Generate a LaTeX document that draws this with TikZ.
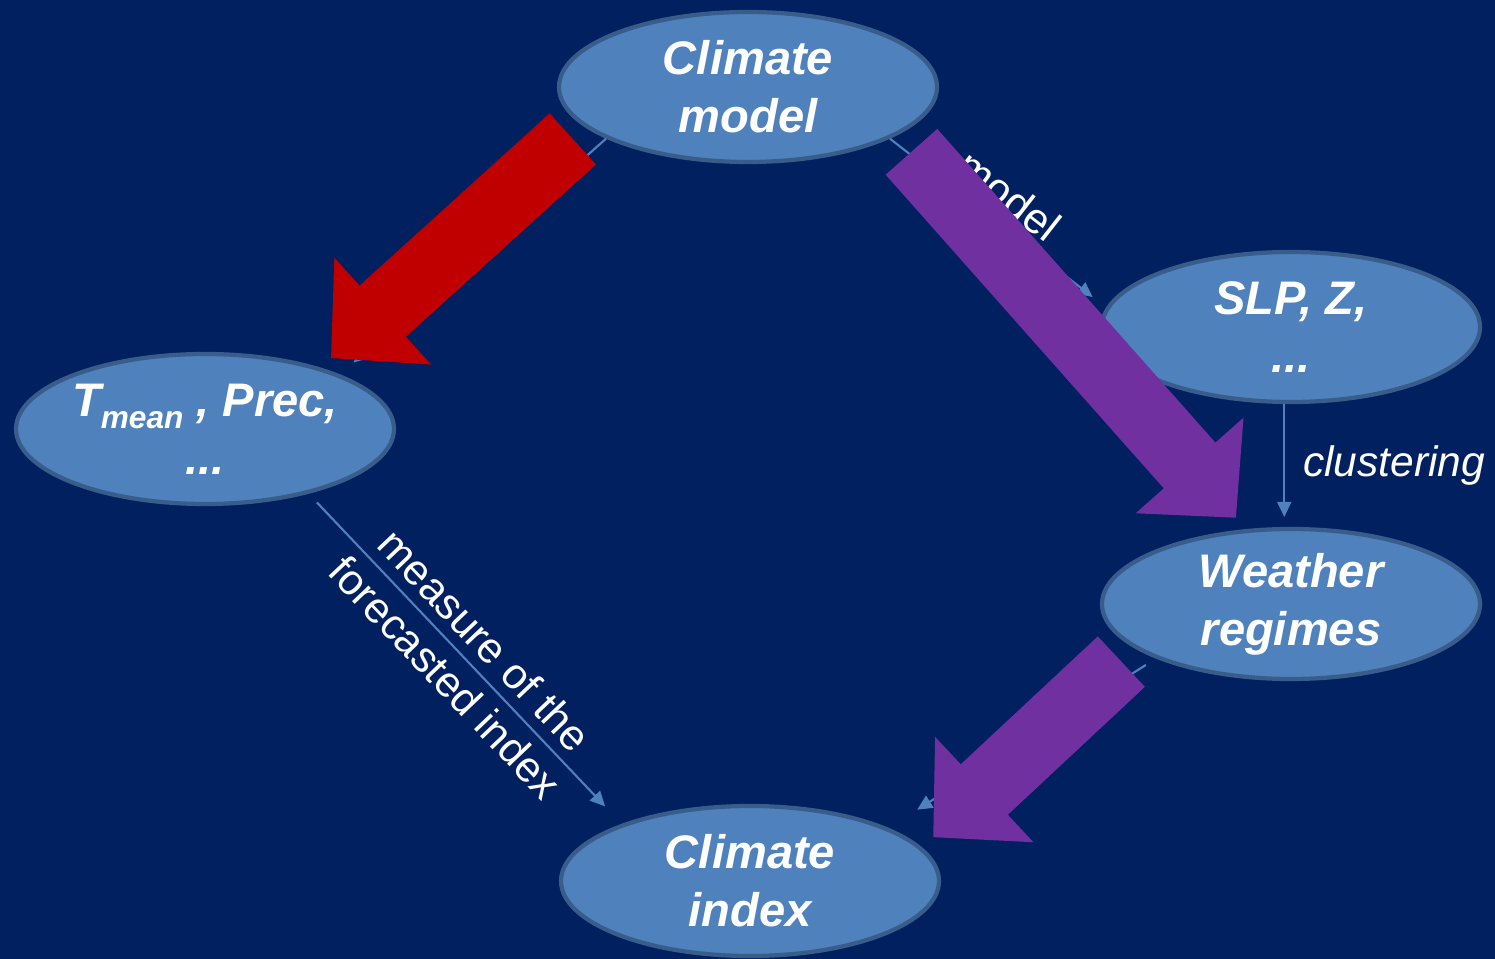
\documentclass[tikz,border=0pt]{standalone}
\usepackage{fontspec}
\setmainfont{Liberation Sans}
\usepackage{tikz}
\usetikzlibrary{shapes}
\usetikzlibrary{arrows.meta}
\usetikzlibrary{positioning}
\definecolor{navy}{HTML}{002060}
\definecolor{boxblue}{HTML}{4F81BD}
\definecolor{boxedge}{HTML}{385D8A}
\definecolor{arrred}{HTML}{C00000}
\definecolor{arrpurple}{HTML}{7030A0}
\tikzstyle{var}=[ellipse,draw=boxedge,fill=boxblue,line width=1.2pt,inner sep=0mm,minimum width=3.78cm,minimum height=1.5cm,text=white,align=center,font=\fontsize{13.4}{16.5}\selectfont\bfseries\itshape]
\tikzstyle{link}=[-{Triangle[length=0.15cm,width=0.14cm]},draw=boxblue,line width=0.6pt]
\tikzstyle{lbl}=[text=white,align=center,font=\fontsize{12.2}{15.4}\selectfont]
\tikzstyle{big}=[line width=0.69cm,-{Triangle[length=0.7cm,width=1.4cm]}]

\begin{document}
\begin{tikzpicture}
        \useasboundingbox (0,0) rectangle (14.95,-9.59);
        \fill[navy] (0,0) rectangle (14.95,-9.59);
        \node[var] at (7.48,-0.87) (cm) {Climate\\model};
        \node[var] at (12.91,-3.27) (slp) {SLP, Z,\\...};
        \node[var] at (2.05,-4.29) (tm) {T\raisebox{-0.12cm}{\fontsize{9}{9}\selectfont mean} , Prec,\\...};
        \node[var] at (12.91,-6.04) (wr) {Weather\\regimes};
        \node[var] at (7.50,-8.81) (ci) {Climate\\index};
        \draw[link,shorten >=0.18cm] (cm.200) -- (tm.22);
        \draw[link,shorten >=0.17cm] (cm.-20) -- node[lbl,pos=0.47,sloped,above] {model} (slp.174);
        \draw[link,shorten >=0.1cm] (slp.265) -- node[lbl,midway,right,xshift=0.06cm,font=\fontsize{12.1}{14.5}\selectfont\itshape] {clustering} (wr.95);
        \draw[link,shorten <=0.12cm,shorten >=0.24cm] (tm.-32) -- node[lbl,midway,sloped] {measure of the\\forecasted index} (ci.156);
        \draw[link,shorten <=0.12cm,shorten >=0.34cm] (wr.202) -- (ci.21);
        \draw[big,arrred,shorten <=0.17cm,shorten >=0.14cm] (cm.194) -- (tm.28);
        \draw[big,arrpurple,shorten <=0.22cm,shorten >=0.15cm] (cm.-18) -- (wr.121);
        \draw[big,arrpurple,shorten <=0.19cm,shorten >=0.15cm] (wr.196) -- (ci.11);
      \end{tikzpicture}
\end{document}
